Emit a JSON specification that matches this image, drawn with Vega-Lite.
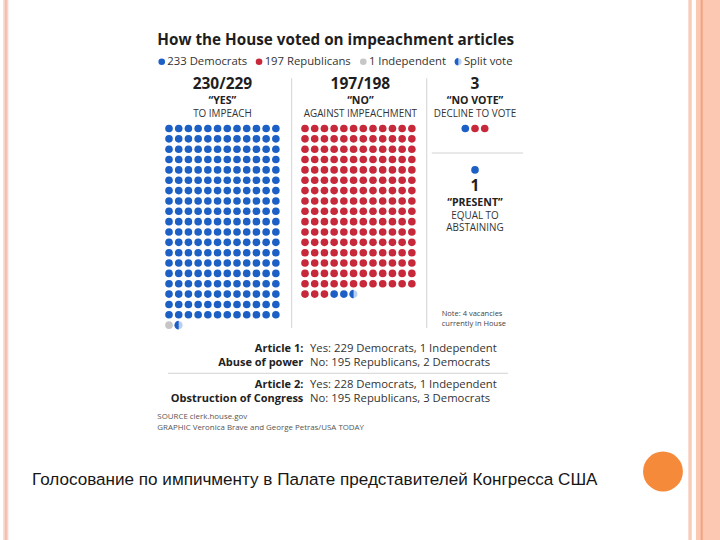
{
"$schema":"https://vega.github.io/schema/vega-lite/v6.json",
"width":720,"height":540,
"autosize":{"type":"fit","contains":"padding"},
"padding":0,
"background":"white",
"config":{"view":{"stroke":null}},
"datasets":{
"dots":[
{"p":"D","u":0,"v":0},{"p":"D","u":1,"v":0},{"p":"D","u":2,"v":0},{"p":"D","u":3,"v":0},{"p":"D","u":4,"v":0},{"p":"D","u":5,"v":0},{"p":"D","u":6,"v":0},{"p":"D","u":7,"v":0},{"p":"D","u":8,"v":0},{"p":"D","u":9,"v":0},{"p":"D","u":10,"v":0},{"p":"D","u":11,"v":0},
{"p":"D","u":0,"v":1},{"p":"D","u":1,"v":1},{"p":"D","u":2,"v":1},{"p":"D","u":3,"v":1},{"p":"D","u":4,"v":1},{"p":"D","u":5,"v":1},{"p":"D","u":6,"v":1},{"p":"D","u":7,"v":1},{"p":"D","u":8,"v":1},{"p":"D","u":9,"v":1},{"p":"D","u":10,"v":1},{"p":"D","u":11,"v":1},
{"p":"D","u":0,"v":2},{"p":"D","u":1,"v":2},{"p":"D","u":2,"v":2},{"p":"D","u":3,"v":2},{"p":"D","u":4,"v":2},{"p":"D","u":5,"v":2},{"p":"D","u":6,"v":2},{"p":"D","u":7,"v":2},{"p":"D","u":8,"v":2},{"p":"D","u":9,"v":2},{"p":"D","u":10,"v":2},{"p":"D","u":11,"v":2},
{"p":"D","u":0,"v":3},{"p":"D","u":1,"v":3},{"p":"D","u":2,"v":3},{"p":"D","u":3,"v":3},{"p":"D","u":4,"v":3},{"p":"D","u":5,"v":3},{"p":"D","u":6,"v":3},{"p":"D","u":7,"v":3},{"p":"D","u":8,"v":3},{"p":"D","u":9,"v":3},{"p":"D","u":10,"v":3},{"p":"D","u":11,"v":3},
{"p":"D","u":0,"v":4},{"p":"D","u":1,"v":4},{"p":"D","u":2,"v":4},{"p":"D","u":3,"v":4},{"p":"D","u":4,"v":4},{"p":"D","u":5,"v":4},{"p":"D","u":6,"v":4},{"p":"D","u":7,"v":4},{"p":"D","u":8,"v":4},{"p":"D","u":9,"v":4},{"p":"D","u":10,"v":4},{"p":"D","u":11,"v":4},
{"p":"D","u":0,"v":5},{"p":"D","u":1,"v":5},{"p":"D","u":2,"v":5},{"p":"D","u":3,"v":5},{"p":"D","u":4,"v":5},{"p":"D","u":5,"v":5},{"p":"D","u":6,"v":5},{"p":"D","u":7,"v":5},{"p":"D","u":8,"v":5},{"p":"D","u":9,"v":5},{"p":"D","u":10,"v":5},{"p":"D","u":11,"v":5},
{"p":"D","u":0,"v":6},{"p":"D","u":1,"v":6},{"p":"D","u":2,"v":6},{"p":"D","u":3,"v":6},{"p":"D","u":4,"v":6},{"p":"D","u":5,"v":6},{"p":"D","u":6,"v":6},{"p":"D","u":7,"v":6},{"p":"D","u":8,"v":6},{"p":"D","u":9,"v":6},{"p":"D","u":10,"v":6},{"p":"D","u":11,"v":6},
{"p":"D","u":0,"v":7},{"p":"D","u":1,"v":7},{"p":"D","u":2,"v":7},{"p":"D","u":3,"v":7},{"p":"D","u":4,"v":7},{"p":"D","u":5,"v":7},{"p":"D","u":6,"v":7},{"p":"D","u":7,"v":7},{"p":"D","u":8,"v":7},{"p":"D","u":9,"v":7},{"p":"D","u":10,"v":7},{"p":"D","u":11,"v":7},
{"p":"D","u":0,"v":8},{"p":"D","u":1,"v":8},{"p":"D","u":2,"v":8},{"p":"D","u":3,"v":8},{"p":"D","u":4,"v":8},{"p":"D","u":5,"v":8},{"p":"D","u":6,"v":8},{"p":"D","u":7,"v":8},{"p":"D","u":8,"v":8},{"p":"D","u":9,"v":8},{"p":"D","u":10,"v":8},{"p":"D","u":11,"v":8},
{"p":"D","u":0,"v":9},{"p":"D","u":1,"v":9},{"p":"D","u":2,"v":9},{"p":"D","u":3,"v":9},{"p":"D","u":4,"v":9},{"p":"D","u":5,"v":9},{"p":"D","u":6,"v":9},{"p":"D","u":7,"v":9},{"p":"D","u":8,"v":9},{"p":"D","u":9,"v":9},{"p":"D","u":10,"v":9},{"p":"D","u":11,"v":9},
{"p":"D","u":0,"v":10},{"p":"D","u":1,"v":10},{"p":"D","u":2,"v":10},{"p":"D","u":3,"v":10},{"p":"D","u":4,"v":10},{"p":"D","u":5,"v":10},{"p":"D","u":6,"v":10},{"p":"D","u":7,"v":10},{"p":"D","u":8,"v":10},{"p":"D","u":9,"v":10},{"p":"D","u":10,"v":10},{"p":"D","u":11,"v":10},
{"p":"D","u":0,"v":11},{"p":"D","u":1,"v":11},{"p":"D","u":2,"v":11},{"p":"D","u":3,"v":11},{"p":"D","u":4,"v":11},{"p":"D","u":5,"v":11},{"p":"D","u":6,"v":11},{"p":"D","u":7,"v":11},{"p":"D","u":8,"v":11},{"p":"D","u":9,"v":11},{"p":"D","u":10,"v":11},{"p":"D","u":11,"v":11},
{"p":"D","u":0,"v":12},{"p":"D","u":1,"v":12},{"p":"D","u":2,"v":12},{"p":"D","u":3,"v":12},{"p":"D","u":4,"v":12},{"p":"D","u":5,"v":12},{"p":"D","u":6,"v":12},{"p":"D","u":7,"v":12},{"p":"D","u":8,"v":12},{"p":"D","u":9,"v":12},{"p":"D","u":10,"v":12},{"p":"D","u":11,"v":12},
{"p":"D","u":0,"v":13},{"p":"D","u":1,"v":13},{"p":"D","u":2,"v":13},{"p":"D","u":3,"v":13},{"p":"D","u":4,"v":13},{"p":"D","u":5,"v":13},{"p":"D","u":6,"v":13},{"p":"D","u":7,"v":13},{"p":"D","u":8,"v":13},{"p":"D","u":9,"v":13},{"p":"D","u":10,"v":13},{"p":"D","u":11,"v":13},
{"p":"D","u":0,"v":14},{"p":"D","u":1,"v":14},{"p":"D","u":2,"v":14},{"p":"D","u":3,"v":14},{"p":"D","u":4,"v":14},{"p":"D","u":5,"v":14},{"p":"D","u":6,"v":14},{"p":"D","u":7,"v":14},{"p":"D","u":8,"v":14},{"p":"D","u":9,"v":14},{"p":"D","u":10,"v":14},{"p":"D","u":11,"v":14},
{"p":"D","u":0,"v":15},{"p":"D","u":1,"v":15},{"p":"D","u":2,"v":15},{"p":"D","u":3,"v":15},{"p":"D","u":4,"v":15},{"p":"D","u":5,"v":15},{"p":"D","u":6,"v":15},{"p":"D","u":7,"v":15},{"p":"D","u":8,"v":15},{"p":"D","u":9,"v":15},{"p":"D","u":10,"v":15},{"p":"D","u":11,"v":15},
{"p":"D","u":0,"v":16},{"p":"D","u":1,"v":16},{"p":"D","u":2,"v":16},{"p":"D","u":3,"v":16},{"p":"D","u":4,"v":16},{"p":"D","u":5,"v":16},{"p":"D","u":6,"v":16},{"p":"D","u":7,"v":16},{"p":"D","u":8,"v":16},{"p":"D","u":9,"v":16},{"p":"D","u":10,"v":16},{"p":"D","u":11,"v":16},
{"p":"D","u":0,"v":17},{"p":"D","u":1,"v":17},{"p":"D","u":2,"v":17},{"p":"D","u":3,"v":17},{"p":"D","u":4,"v":17},{"p":"D","u":5,"v":17},{"p":"D","u":6,"v":17},{"p":"D","u":7,"v":17},{"p":"D","u":8,"v":17},{"p":"D","u":9,"v":17},{"p":"D","u":10,"v":17},{"p":"D","u":11,"v":17},
{"p":"D","u":0,"v":18},{"p":"D","u":1,"v":18},{"p":"D","u":2,"v":18},{"p":"D","u":3,"v":18},{"p":"D","u":4,"v":18},{"p":"D","u":5,"v":18},{"p":"D","u":6,"v":18},{"p":"D","u":7,"v":18},{"p":"D","u":8,"v":18},{"p":"D","u":9,"v":18},{"p":"D","u":10,"v":18},{"p":"D","u":11,"v":18},
{"p":"I","u":0,"v":19},{"p":"S","u":1,"v":19},
{"p":"R","u":14,"v":0},{"p":"R","u":15,"v":0},{"p":"R","u":16,"v":0},{"p":"R","u":17,"v":0},{"p":"R","u":18,"v":0},{"p":"R","u":19,"v":0},{"p":"R","u":20,"v":0},{"p":"R","u":21,"v":0},{"p":"R","u":22,"v":0},{"p":"R","u":23,"v":0},{"p":"R","u":24,"v":0},{"p":"R","u":25,"v":0},
{"p":"R","u":14,"v":1},{"p":"R","u":15,"v":1},{"p":"R","u":16,"v":1},{"p":"R","u":17,"v":1},{"p":"R","u":18,"v":1},{"p":"R","u":19,"v":1},{"p":"R","u":20,"v":1},{"p":"R","u":21,"v":1},{"p":"R","u":22,"v":1},{"p":"R","u":23,"v":1},{"p":"R","u":24,"v":1},{"p":"R","u":25,"v":1},
{"p":"R","u":14,"v":2},{"p":"R","u":15,"v":2},{"p":"R","u":16,"v":2},{"p":"R","u":17,"v":2},{"p":"R","u":18,"v":2},{"p":"R","u":19,"v":2},{"p":"R","u":20,"v":2},{"p":"R","u":21,"v":2},{"p":"R","u":22,"v":2},{"p":"R","u":23,"v":2},{"p":"R","u":24,"v":2},{"p":"R","u":25,"v":2},
{"p":"R","u":14,"v":3},{"p":"R","u":15,"v":3},{"p":"R","u":16,"v":3},{"p":"R","u":17,"v":3},{"p":"R","u":18,"v":3},{"p":"R","u":19,"v":3},{"p":"R","u":20,"v":3},{"p":"R","u":21,"v":3},{"p":"R","u":22,"v":3},{"p":"R","u":23,"v":3},{"p":"R","u":24,"v":3},{"p":"R","u":25,"v":3},
{"p":"R","u":14,"v":4},{"p":"R","u":15,"v":4},{"p":"R","u":16,"v":4},{"p":"R","u":17,"v":4},{"p":"R","u":18,"v":4},{"p":"R","u":19,"v":4},{"p":"R","u":20,"v":4},{"p":"R","u":21,"v":4},{"p":"R","u":22,"v":4},{"p":"R","u":23,"v":4},{"p":"R","u":24,"v":4},{"p":"R","u":25,"v":4},
{"p":"R","u":14,"v":5},{"p":"R","u":15,"v":5},{"p":"R","u":16,"v":5},{"p":"R","u":17,"v":5},{"p":"R","u":18,"v":5},{"p":"R","u":19,"v":5},{"p":"R","u":20,"v":5},{"p":"R","u":21,"v":5},{"p":"R","u":22,"v":5},{"p":"R","u":23,"v":5},{"p":"R","u":24,"v":5},{"p":"R","u":25,"v":5},
{"p":"R","u":14,"v":6},{"p":"R","u":15,"v":6},{"p":"R","u":16,"v":6},{"p":"R","u":17,"v":6},{"p":"R","u":18,"v":6},{"p":"R","u":19,"v":6},{"p":"R","u":20,"v":6},{"p":"R","u":21,"v":6},{"p":"R","u":22,"v":6},{"p":"R","u":23,"v":6},{"p":"R","u":24,"v":6},{"p":"R","u":25,"v":6},
{"p":"R","u":14,"v":7},{"p":"R","u":15,"v":7},{"p":"R","u":16,"v":7},{"p":"R","u":17,"v":7},{"p":"R","u":18,"v":7},{"p":"R","u":19,"v":7},{"p":"R","u":20,"v":7},{"p":"R","u":21,"v":7},{"p":"R","u":22,"v":7},{"p":"R","u":23,"v":7},{"p":"R","u":24,"v":7},{"p":"R","u":25,"v":7},
{"p":"R","u":14,"v":8},{"p":"R","u":15,"v":8},{"p":"R","u":16,"v":8},{"p":"R","u":17,"v":8},{"p":"R","u":18,"v":8},{"p":"R","u":19,"v":8},{"p":"R","u":20,"v":8},{"p":"R","u":21,"v":8},{"p":"R","u":22,"v":8},{"p":"R","u":23,"v":8},{"p":"R","u":24,"v":8},{"p":"R","u":25,"v":8},
{"p":"R","u":14,"v":9},{"p":"R","u":15,"v":9},{"p":"R","u":16,"v":9},{"p":"R","u":17,"v":9},{"p":"R","u":18,"v":9},{"p":"R","u":19,"v":9},{"p":"R","u":20,"v":9},{"p":"R","u":21,"v":9},{"p":"R","u":22,"v":9},{"p":"R","u":23,"v":9},{"p":"R","u":24,"v":9},{"p":"R","u":25,"v":9},
{"p":"R","u":14,"v":10},{"p":"R","u":15,"v":10},{"p":"R","u":16,"v":10},{"p":"R","u":17,"v":10},{"p":"R","u":18,"v":10},{"p":"R","u":19,"v":10},{"p":"R","u":20,"v":10},{"p":"R","u":21,"v":10},{"p":"R","u":22,"v":10},{"p":"R","u":23,"v":10},{"p":"R","u":24,"v":10},{"p":"R","u":25,"v":10},
{"p":"R","u":14,"v":11},{"p":"R","u":15,"v":11},{"p":"R","u":16,"v":11},{"p":"R","u":17,"v":11},{"p":"R","u":18,"v":11},{"p":"R","u":19,"v":11},{"p":"R","u":20,"v":11},{"p":"R","u":21,"v":11},{"p":"R","u":22,"v":11},{"p":"R","u":23,"v":11},{"p":"R","u":24,"v":11},{"p":"R","u":25,"v":11},
{"p":"R","u":14,"v":12},{"p":"R","u":15,"v":12},{"p":"R","u":16,"v":12},{"p":"R","u":17,"v":12},{"p":"R","u":18,"v":12},{"p":"R","u":19,"v":12},{"p":"R","u":20,"v":12},{"p":"R","u":21,"v":12},{"p":"R","u":22,"v":12},{"p":"R","u":23,"v":12},{"p":"R","u":24,"v":12},{"p":"R","u":25,"v":12},
{"p":"R","u":14,"v":13},{"p":"R","u":15,"v":13},{"p":"R","u":16,"v":13},{"p":"R","u":17,"v":13},{"p":"R","u":18,"v":13},{"p":"R","u":19,"v":13},{"p":"R","u":20,"v":13},{"p":"R","u":21,"v":13},{"p":"R","u":22,"v":13},{"p":"R","u":23,"v":13},{"p":"R","u":24,"v":13},{"p":"R","u":25,"v":13},
{"p":"R","u":14,"v":14},{"p":"R","u":15,"v":14},{"p":"R","u":16,"v":14},{"p":"R","u":17,"v":14},{"p":"R","u":18,"v":14},{"p":"R","u":19,"v":14},{"p":"R","u":20,"v":14},{"p":"R","u":21,"v":14},{"p":"R","u":22,"v":14},{"p":"R","u":23,"v":14},{"p":"R","u":24,"v":14},{"p":"R","u":25,"v":14},
{"p":"R","u":14,"v":15},{"p":"R","u":15,"v":15},{"p":"R","u":16,"v":15},{"p":"R","u":17,"v":15},{"p":"R","u":18,"v":15},{"p":"R","u":19,"v":15},{"p":"R","u":20,"v":15},{"p":"R","u":21,"v":15},{"p":"R","u":22,"v":15},{"p":"R","u":23,"v":15},{"p":"R","u":24,"v":15},{"p":"R","u":25,"v":15},
{"p":"R","u":14,"v":16},{"p":"R","u":15,"v":16},{"p":"R","u":16,"v":16},{"p":"D","u":17,"v":16},{"p":"D","u":18,"v":16},{"p":"S","u":19,"v":16},
{"p":"D","u":30.5,"v":0},{"p":"R","u":31.5,"v":0},{"p":"R","u":32.5,"v":0},
{"p":"D","u":31.5,"v":4}
],
"legend":[
{"p":"D","t":"233 Democrats","u":-0.75,"v":-6.45},
{"p":"R","t":"197 Republicans","u":9.27,"v":-6.45},
{"p":"I","t":"1 Independent","u":20.0,"v":-6.45},
{"p":"S","t":"Split vote","u":29.78,"v":-6.45}
],
"labels":[
{"role":"title","t":"How the House voted on impeachment articles","u":-1.2,"v":-8.55},
{"role":"number","t":"230/229","u":5.5,"v":-4.29},
{"role":"number","t":"197/198","u":19.7,"v":-4.29},
{"role":"number","t":"3","u":31.5,"v":-4.29},
{"role":"number","t":"1","u":31.5,"v":5.604},
{"role":"quote","t":"“YES”","u":5.5,"v":-2.7},
{"role":"quote","t":"“NO”","u":19.7,"v":-2.7},
{"role":"quote","t":"“NO VOTE”","u":31.5,"v":-2.7},
{"role":"quote","t":"“PRESENT”","u":31.5,"v":7.188},
{"role":"desc","t":"TO IMPEACH","u":5.5,"v":-1.44},
{"role":"desc","t":"AGAINST IMPEACHMENT","u":19.7,"v":-1.44},
{"role":"desc","t":"DECLINE TO VOTE","u":31.5,"v":-1.44},
{"role":"desc","t":"EQUAL TO","u":31.5,"v":8.444},
{"role":"desc","t":"ABSTAINING","u":31.5,"v":9.652},
{"role":"note","t":"Note: 4 vacancies","u":28.07,"v":17.95},
{"role":"note","t":"currently in House","u":28.07,"v":18.87},
{"role":"article","t":"Article 1:","u":13.83,"v":21.285},
{"role":"article","t":"Abuse of power","u":13.83,"v":22.638},
{"role":"article","t":"Article 2:","u":13.83,"v":24.763},
{"role":"article","t":"Obstruction of Congress","u":13.83,"v":26.116},
{"role":"result","t":"Yes: 229 Democrats, 1 Independent","u":14.52,"v":21.285},
{"role":"result","t":"No: 195 Republicans, 2 Democrats","u":14.52,"v":22.638},
{"role":"result","t":"Yes: 228 Democrats, 1 Independent","u":14.52,"v":24.763},
{"role":"result","t":"No: 195 Republicans, 3 Democrats","u":14.52,"v":26.116},
{"role":"source","t":"SOURCE clerk.house.gov","u":-1.2,"v":27.85},
{"role":"source","t":"GRAPHIC Veronica Brave and George Petras/USA TODAY","u":-1.2,"v":28.97},
{"role":"caption","t":"Голосование по импичменту в Палате представителей Конгресса США","u":-14.1,"v":33.96}
],
"rules":[
{"u":12.63,"v":-4.85,"u2":12.63,"v2":19.28},
{"u":26.53,"v":-4.85,"u2":26.53,"v2":19.28},
{"u":27.05,"v":2.37,"u2":36.45,"v2":2.37},
{"u":-0.1,"v":23.65,"u2":34.9,"v2":23.65}
],
"frame":[
{"part":"left","u":-17.06,"u2":-16.54},
{"part":"leftcore","u":-16.87,"u2":-16.72},
{"part":"thin","u":53.46,"u2":53.81},
{"part":"band","u":54.25,"u2":56.72},
{"part":"bandline","u":54.73,"u2":54.94}
],
"badge":[{"part":"circle","u":50.85,"v":33.14}]
},
"layer":[
{"data":{"name":"frame"},"transform":[{"filter":"datum.part==='left'"}],"mark":{"type":"rect","color":"#f9d3c8"},
 "encoding":{"x":{"field":"u","type":"quantitative","scale":{"domain":[-17.397,56.72],"nice":false,"zero":false},"axis":null},"x2":{"field":"u2"}}},
{"data":{"name":"frame"},"transform":[{"filter":"datum.part==='leftcore'"}],"mark":{"type":"rect","color":"#f3b9a9"},
 "encoding":{"x":{"field":"u","type":"quantitative","axis":null},"x2":{"field":"u2"}}},
{"data":{"name":"frame"},"transform":[{"filter":"datum.part==='thin'"}],"mark":{"type":"rect","color":"#f8cbbb"},
 "encoding":{"x":{"field":"u","type":"quantitative","axis":null},"x2":{"field":"u2"}}},
{"data":{"name":"frame"},"transform":[{"filter":"datum.part==='band'"}],"mark":{"type":"rect","color":"#fcc8b2"},
 "encoding":{"x":{"field":"u","type":"quantitative","axis":null},"x2":{"field":"u2"}}},
{"data":{"name":"frame"},"transform":[{"filter":"datum.part==='bandline'"}],"mark":{"type":"rect","color":"#efa585"},
 "encoding":{"x":{"field":"u","type":"quantitative","axis":null},"x2":{"field":"u2"}}},
{"data":{"name":"rules"},"mark":{"type":"rule","color":"#d2d2d2","strokeWidth":1},
 "encoding":{"x":{"field":"u","type":"quantitative","axis":null},"x2":{"field":"u2"},
  "y":{"field":"v","type":"quantitative","scale":{"domain":[-12.415,39.758],"nice":false,"zero":false,"reverse":true},"axis":null},"y2":{"field":"v2"}}},
{"data":{"name":"dots"},"mark":{"type":"circle","size":58,"opacity":1},
 "encoding":{"x":{"field":"u","type":"quantitative","axis":null},"y":{"field":"v","type":"quantitative","axis":null},
  "color":{"field":"p","type":"nominal","scale":{"domain":["D","R","I","S"],"range":["#1c60c6","#c7293b","#c6c6c6","#b9cef0"]},"legend":null}}},
{"data":{"name":"dots"},"transform":[{"filter":"datum.p==='S'"}],"mark":{"type":"point","shape":"M0,-1A1,1,0,0,0,0,1Z","size":74,"filled":true,"color":"#1c60c6","opacity":1,"strokeWidth":0},
 "encoding":{"x":{"field":"u","type":"quantitative","axis":null},"y":{"field":"v","type":"quantitative","axis":null}}},
{"data":{"name":"legend"},"mark":{"type":"circle","size":44,"opacity":1},
 "encoding":{"x":{"field":"u","type":"quantitative","axis":null},"y":{"field":"v","type":"quantitative","axis":null},
  "color":{"field":"p","type":"nominal","legend":null}}},
{"data":{"name":"legend"},"transform":[{"filter":"datum.p==='S'"}],"mark":{"type":"point","shape":"M0,-1A1,1,0,0,0,0,1Z","size":56,"filled":true,"color":"#1c60c6","opacity":1,"strokeWidth":0},
 "encoding":{"x":{"field":"u","type":"quantitative","axis":null},"y":{"field":"v","type":"quantitative","axis":null}}},
{"data":{"name":"legend"},"mark":{"type":"text","align":"left","baseline":"middle","dx":5.6,"font":"Open Sans","fontSize":11.3,"color":"#333333"},
 "encoding":{"x":{"field":"u","type":"quantitative","axis":null},"y":{"field":"v","type":"quantitative","axis":null},"text":{"field":"t"}}},
{"data":{"name":"labels"},"transform":[{"filter":"datum.role==='title'"}],"mark":{"type":"text","align":"left","baseline":"middle","font":"Open Sans","fontWeight":"bold","fontSize":15.25,"color":"#1e1e1e"},
 "encoding":{"x":{"field":"u","type":"quantitative","axis":null},"y":{"field":"v","type":"quantitative","axis":null},"text":{"field":"t"}}},
{"data":{"name":"labels"},"transform":[{"filter":"datum.role==='number'"}],"mark":{"type":"text","align":"center","baseline":"middle","font":"Open Sans","fontWeight":"bold","fontSize":15.5,"color":"#1e1e1e"},
 "encoding":{"x":{"field":"u","type":"quantitative","axis":null},"y":{"field":"v","type":"quantitative","axis":null},"text":{"field":"t"}}},
{"data":{"name":"labels"},"transform":[{"filter":"datum.role==='quote'"}],"mark":{"type":"text","align":"center","baseline":"middle","font":"Open Sans","fontWeight":"bold","fontSize":10.6,"color":"#222222"},
 "encoding":{"x":{"field":"u","type":"quantitative","axis":null},"y":{"field":"v","type":"quantitative","axis":null},"text":{"field":"t"}}},
{"data":{"name":"labels"},"transform":[{"filter":"datum.role==='desc'"}],"mark":{"type":"text","align":"center","baseline":"middle","font":"Open Sans","fontSize":9.9,"color":"#333333"},
 "encoding":{"x":{"field":"u","type":"quantitative","axis":null},"y":{"field":"v","type":"quantitative","axis":null},"text":{"field":"t"}}},
{"data":{"name":"labels"},"transform":[{"filter":"datum.role==='note'"}],"mark":{"type":"text","align":"left","baseline":"middle","font":"Open Sans","fontSize":7.5,"color":"#444444"},
 "encoding":{"x":{"field":"u","type":"quantitative","axis":null},"y":{"field":"v","type":"quantitative","axis":null},"text":{"field":"t"}}},
{"data":{"name":"labels"},"transform":[{"filter":"datum.role==='article'"}],"mark":{"type":"text","align":"right","baseline":"middle","font":"Open Sans","fontWeight":"bold","fontSize":11,"color":"#222222"},
 "encoding":{"x":{"field":"u","type":"quantitative","axis":null},"y":{"field":"v","type":"quantitative","axis":null},"text":{"field":"t"}}},
{"data":{"name":"labels"},"transform":[{"filter":"datum.role==='result'"}],"mark":{"type":"text","align":"left","baseline":"middle","font":"Open Sans","fontSize":11.3,"color":"#333333"},
 "encoding":{"x":{"field":"u","type":"quantitative","axis":null},"y":{"field":"v","type":"quantitative","axis":null},"text":{"field":"t"}}},
{"data":{"name":"labels"},"transform":[{"filter":"datum.role==='source'"}],"mark":{"type":"text","align":"left","baseline":"middle","font":"Open Sans","fontSize":7.9,"color":"#555555"},
 "encoding":{"x":{"field":"u","type":"quantitative","axis":null},"y":{"field":"v","type":"quantitative","axis":null},"text":{"field":"t"}}},
{"data":{"name":"labels"},"transform":[{"filter":"datum.role==='caption'"}],"mark":{"type":"text","align":"left","baseline":"middle","font":"Liberation Sans","fontSize":17.1,"color":"#161616"},
 "encoding":{"x":{"field":"u","type":"quantitative","axis":null},"y":{"field":"v","type":"quantitative","axis":null},"text":{"field":"t"}}},
{"data":{"name":"badge"},"mark":{"type":"circle","size":1590,"color":"#f68a3b","opacity":1},
 "encoding":{"x":{"field":"u","type":"quantitative","axis":null},"y":{"field":"v","type":"quantitative","axis":null}}}
]
}
